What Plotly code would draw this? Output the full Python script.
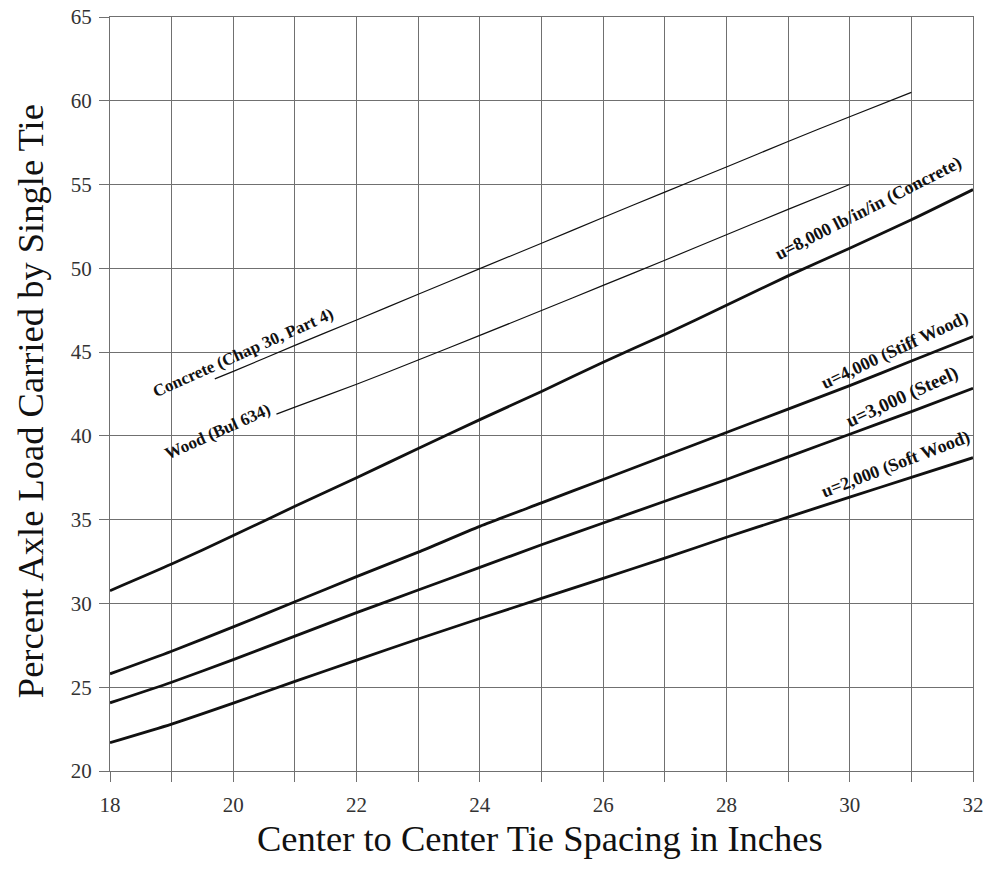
import plotly.graph_objects as go

# ---- data ----
x_full = [18, 19, 20, 21, 22, 23, 24, 25, 26, 27, 28, 29, 30, 31, 32]
u8000 = [30.76, 32.35, 34.05, 35.8, 37.5, 39.25, 40.97, 42.65, 44.4, 46.05, 47.8, 49.55, 51.2, 52.9, 54.7]
u4000 = [25.8, 27.15, 28.6, 30.1, 31.6, 33.06, 34.6, 36.0, 37.4, 38.8, 40.2, 41.6, 43.0, 44.47, 45.93]
u3000 = [24.07, 25.3, 26.65, 28.05, 29.45, 30.8, 32.15, 33.5, 34.8, 36.1, 37.4, 38.75, 40.1, 41.45, 42.84]
u2000 = [21.69, 22.8, 24.05, 25.35, 26.62, 27.88, 29.1, 30.3, 31.5, 32.7, 33.95, 35.15, 36.35, 37.52, 38.7]

x_concrete = [19.7, 20, 21, 22, 23, 24, 25, 26, 27, 28, 29, 30, 31]
concrete = [43.4, 43.85, 45.4, 46.92, 48.45, 49.98, 51.5, 53.03, 54.55, 56.05, 57.57, 59.05, 60.5]
x_wood = [20.7, 21, 22, 23, 24, 25, 26, 27, 28, 29, 30]
wood = [41.3, 41.72, 43.08, 44.53, 46.0, 47.48, 48.98, 50.48, 52.0, 53.52, 55.0]

x_tickvals = list(range(18, 33))
x_ticktext = [str(v) if v % 2 == 0 else "" for v in x_tickvals]
y_tickvals = [20, 25, 30, 35, 40, 45, 50, 55, 60, 65]

labels = ["Concrete (Chap 30, Part 4)", "Wood (Bul 634)", "u=8,000 lb/in/in (Concrete)",
          "u=4,000 (Stiff Wood)", "u=3,000 (Steel)", "u=2,000 (Soft Wood)"]
label_x = [20.16, 19.75, 30.3, 30.73, 30.85, 30.74]
label_y = [45.0, 40.25, 53.6, 45.1, 42.3, 38.3]
label_angle = [-24, -24, -27, -25, -24.5, -21]
label_size = [17, 17, 18, 18, 19, 18]

fig = go.Figure()
thin = dict(color="#111111", width=1.2, shape="spline", smoothing=0.6)
thick = dict(color="#111111", width=2.8, shape="spline", smoothing=0.6)
fig.add_trace(go.Scatter(x=x_concrete, y=concrete, mode="lines", line=thin))
fig.add_trace(go.Scatter(x=x_wood, y=wood, mode="lines", line=thin))
for ys in (u8000, u4000, u3000, u2000):
    fig.add_trace(go.Scatter(x=x_full, y=ys, mode="lines", line=thick))

for t, lx, ly, a, s in zip(labels, label_x, label_y, label_angle, label_size):
    fig.add_annotation(x=lx, y=ly, text="<b>" + t + "</b>", showarrow=False, textangle=a,
                       xanchor="center", yanchor="middle",
                       font=dict(family="Liberation Serif", size=s, color="#111111"))

fig.add_annotation(xref="paper", yref="paper", x=0.498, y=-0.09, text="Center to Center Tie Spacing in Inches",
                   showarrow=False, xanchor="center", yanchor="middle",
                   font=dict(family="Liberation Serif", size=36.5, color="#111111"))
fig.add_annotation(xref="paper", yref="paper", x=-0.092, y=0.49, text="Percent Axle Load Carried by Single Tie",
                   showarrow=False, xanchor="center", yanchor="middle", textangle=-90,
                   font=dict(family="Liberation Serif", size=36.5, color="#111111"))

axis_common = dict(showgrid=True, gridcolor="#707070", gridwidth=1,
                   showline=True, linecolor="#707070", linewidth=1.2, mirror=True,
                   ticks="outside", ticklen=10, tickcolor="#707070", tickwidth=1,
                   zeroline=False, ticklabeloverflow="allow", automargin=False,
                   tickfont=dict(family="Liberation Serif", size=21, color="#333333"))
fig.update_xaxes(range=[18, 32], tickmode="array", tickvals=x_tickvals, ticktext=x_ticktext,
                 ticklabelstandoff=5, **axis_common)
fig.update_yaxes(range=[20, 65], tickmode="array", tickvals=y_tickvals,
                 ticklabelstandoff=3, **axis_common)

fig.update_layout(width=992, height=881, showlegend=False,
                  margin=dict(l=110, r=19, t=17, b=110),
                  paper_bgcolor="white", plot_bgcolor="white")

fig.write_html("out.html", config={"displayModeBar": False},
               post_script="document.body.style.margin='0';document.body.style.overflow='hidden';")
